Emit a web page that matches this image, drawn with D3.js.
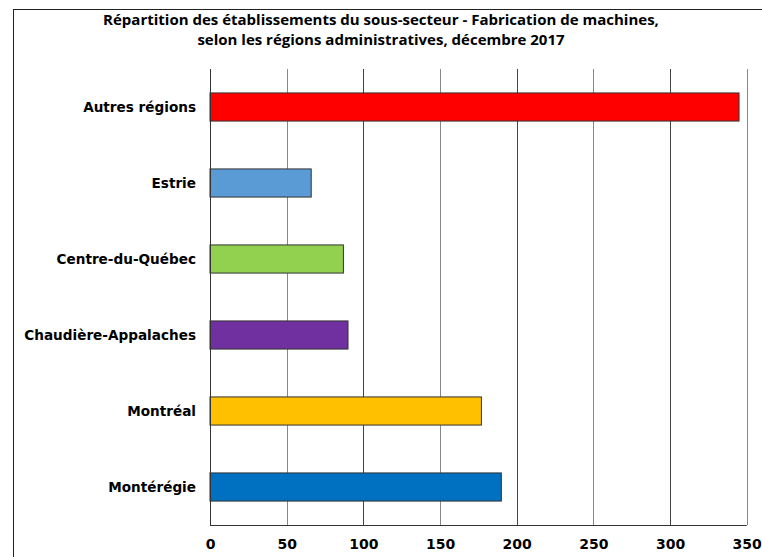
<!DOCTYPE html>
<html>
<head>
<meta charset="utf-8">
<script src="https://cdn.jsdelivr.net/npm/d3@7/dist/d3.min.js"></script>
<style>
  body { margin: 0; background: #fff; }
  .title { font-family: "Open Sans", sans-serif; font-weight: bold; font-size: 15px; fill: #000; }
  .cat { font-family: "DejaVu Sans", Verdana, sans-serif; font-weight: bold; font-size: 13.6px; fill: #000; }
  .tick text { font-family: "DejaVu Sans", Verdana, sans-serif; font-weight: bold; font-size: 14px; fill: #000; }
</style>
</head>
<body>
<div id="chart"></div>
<script>
  var categories = ["Autres régions", "Estrie", "Centre-du-Québec", "Chaudière-Appalaches", "Montréal", "Montérégie"];
  var values = [345, 66, 87, 90, 177, 190];
  var colors = ["#ff0000", "#5b9bd5", "#92d050", "#7030a0", "#ffc000", "#0070c0"];
  var xTicks = [0, 50, 100, 150, 200, 250, 300, 350];
  var titleLines = ["Répartition des établissements du sous-secteur - Fabrication de machines,",
                    "selon les régions administratives, décembre 2017"];

  var W = 762, H = 557;
  var margin = {top: 69, left: 210, right: 15, bottom: 32};
  var width = 746.7 - margin.left;
  var height = 525 - margin.top;

  var svg = d3.select("#chart").append("svg")
    .attr("width", W).attr("height", H);

  // outer frame (runs off the right / bottom edge in the original)
  svg.append("rect")
    .attr("x", 13.5).attr("y", 9.5)
    .attr("width", W).attr("height", H)
    .style("fill", "none").style("stroke", "#222").style("stroke-width", 1);

  svg.selectAll(".title").data(titleLines).enter().append("text")
    .attr("class", "title")
    .attr("x", 381).attr("y", function(d, i) { return 25 + i * 20; })
    .attr("text-anchor", "middle")
    .text(function(d) { return d; });

  var x = d3.scaleLinear().domain([0, 350]).range([0, width]);
  var y = d3.scaleBand().domain(categories).range([0, height]).paddingInner(0.63).paddingOuter(0.315);

  var g = svg.append("g")
    .attr("transform", "translate(" + margin.left + "," + margin.top + ")");

  // vertical grid lines
  g.selectAll(".grid").data(xTicks.slice(1)).enter().append("line")
    .attr("x1", function(d) { return Math.round(x(d)) + 0.5; })
    .attr("x2", function(d) { return Math.round(x(d)) + 0.5; })
    .attr("y1", 0).attr("y2", height)
    .style("stroke", function(d, i) { return i % 2 === 0 ? "#888" : "#444"; })
    .style("stroke-width", 1);

  // x axis
  var xAxis = d3.axisBottom(x).tickValues(xTicks).tickSize(0).tickPadding(14);
  var ax = g.append("g").attr("class", "x axis")
    .attr("transform", "translate(0," + height + ")")
    .call(xAxis);
  ax.select(".domain").remove();

  // bars
  g.selectAll(".bar").data(values).enter().append("rect")
    .attr("class", "bar")
    .attr("x", 0)
    .attr("y", function(d, i) { return y(categories[i]); })
    .attr("width", function(d) { return x(d); })
    .attr("height", y.bandwidth())
    .style("fill", function(d, i) { return colors[i]; })
    .style("stroke", "#333").style("stroke-width", 1);

  // axis lines on top
  g.append("line").attr("x1", 0.5).attr("x2", 0.5).attr("y1", 0).attr("y2", height)
    .style("stroke", "#333");
  g.append("line").attr("x1", 0).attr("x2", width).attr("y1", height + 0.5).attr("y2", height + 0.5)
    .style("stroke", "#333");

  // category labels
  g.selectAll(".cat").data(categories).enter().append("text")
    .attr("class", "cat")
    .attr("x", -14)
    .attr("y", function(d) { return y(d) + y.bandwidth() / 2; })
    .attr("dy", "0.35em")
    .attr("text-anchor", "end")
    .text(function(d) { return d; });
</script>
</body>
</html>
